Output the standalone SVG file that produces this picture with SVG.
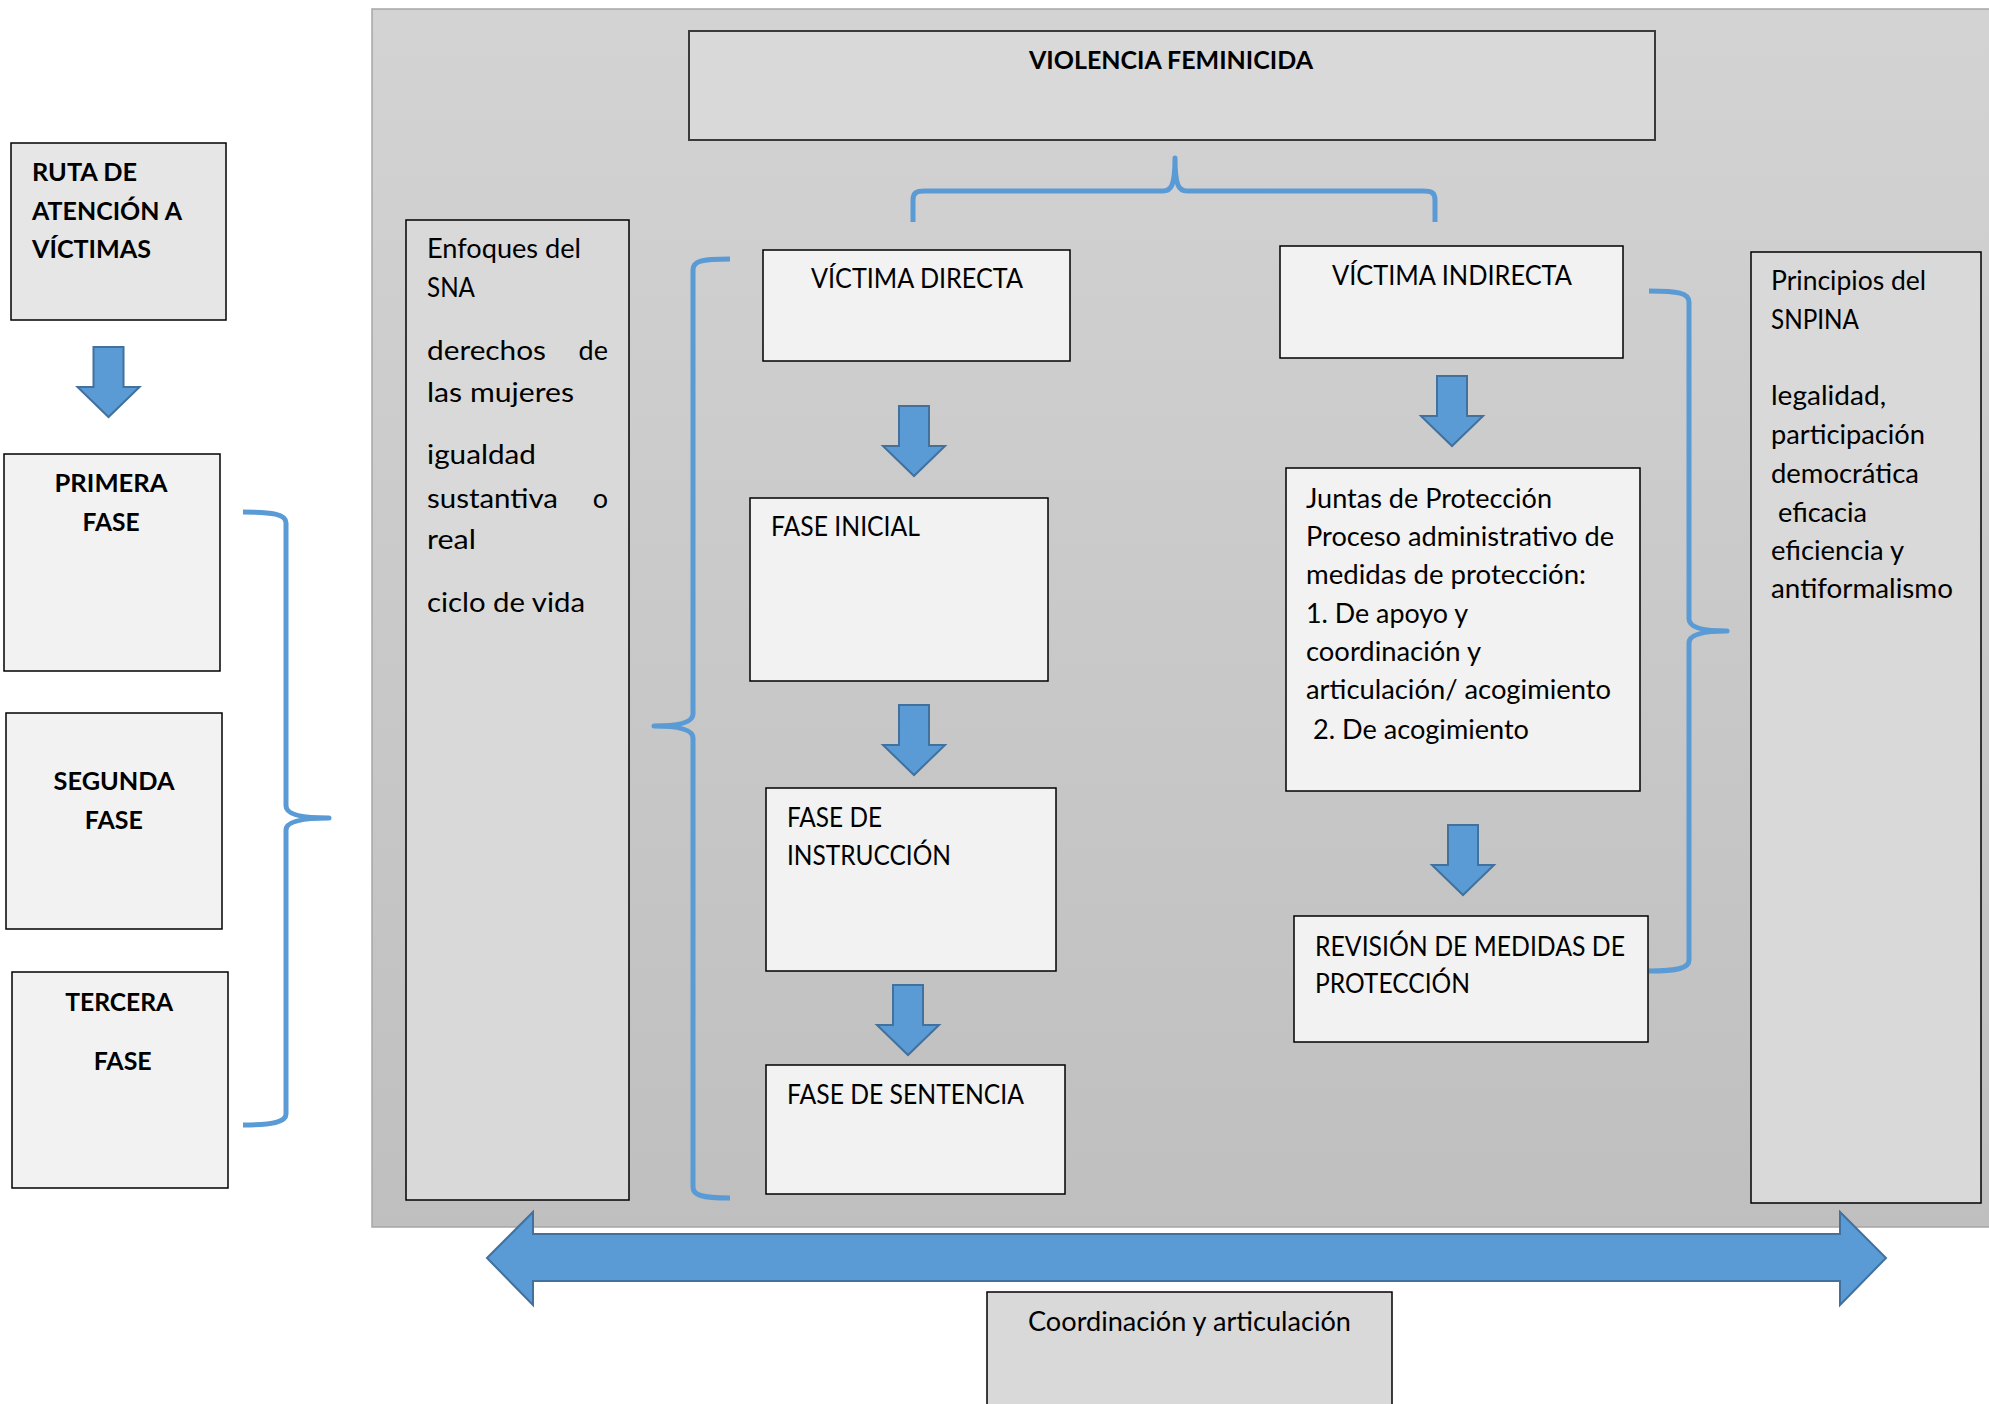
<svg xmlns="http://www.w3.org/2000/svg" xmlns:xlink="http://www.w3.org/1999/xlink" width="1989" height="1404" viewBox="0 0 1989 1404">
<defs>
<linearGradient id="pg" x1="0" y1="0" x2="0" y2="1">
<stop offset="0" stop-color="#d3d3d3"/>
<stop offset="1" stop-color="#bfbfbf"/>
</linearGradient>
<path id="dn" d="M-15,0 H15 V40 H31 L0,70 L-31,40 H-15 Z" fill="#5b9bd5" stroke="#41719c" stroke-width="2" stroke-linejoin="miter"/>
</defs>
<style>
.bx{stroke:#000;stroke-width:1.5}
.lt{fill:#f2f2f2}
.md{fill:#d9d9d9}
.t{font-family:Lato,"Liberation Sans",sans-serif;font-size:27px;fill:#000}
.b{font-weight:bold;font-size:25.4px}
.e{text-anchor:end}
.br{fill:none;stroke:#5b9bd5;stroke-width:5;stroke-linecap:butt;stroke-linejoin:round}
</style>
<rect width="1989" height="1404" fill="#fff"/>
<rect id="panel" x="372" y="9" width="1640" height="1218" fill="url(#pg)" stroke="#a6a6a6" stroke-width="1.5"/>

<g id="ruta">
<rect class="bx" x="11" y="143" width="215" height="177" fill="#e6e6e6"/>
<text class="t b" x="32" y="181" textLength="105" lengthAdjust="spacingAndGlyphs">RUTA DE</text>
<text class="t b" x="32" y="220" textLength="150" lengthAdjust="spacingAndGlyphs">ATENCIÓN A</text>
<text class="t b" x="32" y="258" textLength="119" lengthAdjust="spacingAndGlyphs">VÍCTIMAS</text>
</g>
<g id="primera">
<rect class="bx lt" x="4" y="454" width="216" height="217"/>
<text class="t b" x="54.5" y="492" textLength="113" lengthAdjust="spacingAndGlyphs">PRIMERA</text>
<text class="t b" x="82.6" y="531" textLength="57" lengthAdjust="spacingAndGlyphs">FASE</text>
</g>
<g id="segunda">
<rect class="bx lt" x="6" y="713" width="216" height="216"/>
<text class="t b" x="53.6" y="790" textLength="121" lengthAdjust="spacingAndGlyphs">SEGUNDA</text>
<text class="t b" x="84.8" y="829" textLength="58" lengthAdjust="spacingAndGlyphs">FASE</text>
</g>
<g id="tercera">
<rect class="bx lt" x="12" y="972" width="216" height="216"/>
<text class="t b" x="65.2" y="1011" textLength="108" lengthAdjust="spacingAndGlyphs">TERCERA</text>
<text class="t b" x="93.7" y="1070" textLength="58" lengthAdjust="spacingAndGlyphs">FASE</text>
</g>
<g id="enfoques">
<rect class="bx md" x="406" y="220" width="223" height="980"/>
<text class="t" x="427" y="258" textLength="154" lengthAdjust="spacingAndGlyphs">Enfoques del</text>
<text class="t" x="427" y="297" textLength="48" lengthAdjust="spacingAndGlyphs">SNA</text>
<text class="t" x="427" y="360" textLength="119" lengthAdjust="spacingAndGlyphs">derechos</text>
<text class="t e" x="608" y="360">de</text>
<text class="t" x="427" y="402" textLength="147" lengthAdjust="spacingAndGlyphs">las mujeres</text>
<text class="t" x="427" y="464" textLength="109" lengthAdjust="spacingAndGlyphs">igualdad</text>
<text class="t" x="427" y="508" textLength="131" lengthAdjust="spacingAndGlyphs">sustantiva</text>
<text class="t e" x="608" y="508">o</text>
<text class="t" x="427" y="549" textLength="49" lengthAdjust="spacingAndGlyphs">real</text>
<text class="t" x="427" y="612" textLength="158" lengthAdjust="spacingAndGlyphs">ciclo de vida</text>
</g>
<g id="violencia">
<rect x="689" y="31" width="966" height="109" fill="#d9d9d9" stroke="#3a3a3a" stroke-width="2"/>
<text class="t b" x="1029" y="69" textLength="284" lengthAdjust="spacingAndGlyphs">VIOLENCIA FEMINICIDA</text>
</g>
<g id="vdirecta">
<rect class="bx lt" x="763" y="250" width="307" height="111"/>
<text class="t" x="811" y="288" textLength="212" lengthAdjust="spacingAndGlyphs">VÍCTIMA DIRECTA</text>
</g>
<g id="faseinicial">
<rect class="bx lt" x="750" y="498" width="298" height="183"/>
<text class="t" x="771" y="536" textLength="149" lengthAdjust="spacingAndGlyphs">FASE INICIAL</text>
</g>
<g id="instruccion">
<rect class="bx lt" x="766" y="788" width="290" height="183"/>
<text class="t" x="787" y="827" textLength="95" lengthAdjust="spacingAndGlyphs">FASE DE</text>
<text class="t" x="787" y="865" textLength="164" lengthAdjust="spacingAndGlyphs">INSTRUCCIÓN</text>
</g>
<g id="sentencia">
<rect class="bx lt" x="766" y="1065" width="299" height="129"/>
<text class="t" x="787" y="1104" textLength="237" lengthAdjust="spacingAndGlyphs">FASE DE SENTENCIA</text>
</g>
<g id="vindirecta">
<rect class="bx lt" x="1280" y="246" width="343" height="112"/>
<text class="t" x="1332" y="285" textLength="240" lengthAdjust="spacingAndGlyphs">VÍCTIMA INDIRECTA</text>
</g>
<g id="juntas">
<rect class="bx lt" x="1286" y="468" width="354" height="323"/>
<text class="t" x="1306" y="508" textLength="246" lengthAdjust="spacingAndGlyphs">Juntas de Protección</text>
<text class="t" x="1306" y="546" textLength="308" lengthAdjust="spacingAndGlyphs">Proceso administrativo de</text>
<text class="t" x="1306" y="584" textLength="280" lengthAdjust="spacingAndGlyphs">medidas de protección:</text>
<text class="t" x="1306" y="623" textLength="162" lengthAdjust="spacingAndGlyphs">1. De apoyo y</text>
<text class="t" x="1306" y="661" textLength="175" lengthAdjust="spacingAndGlyphs">coordinación y</text>
<text class="t" x="1306" y="699" textLength="305" lengthAdjust="spacingAndGlyphs">articulación/ acogimiento</text>
<text class="t" x="1313" y="739" textLength="216" lengthAdjust="spacingAndGlyphs">2. De acogimiento</text>
</g>
<g id="revision">
<rect class="bx lt" x="1294" y="916" width="354" height="126"/>
<text class="t" x="1315" y="956" textLength="310" lengthAdjust="spacingAndGlyphs">REVISIÓN DE MEDIDAS DE</text>
<text class="t" x="1315" y="993" textLength="155" lengthAdjust="spacingAndGlyphs">PROTECCIÓN</text>
</g>
<g id="principios">
<rect class="bx md" x="1751" y="252" width="230" height="951"/>
<text class="t" x="1771" y="290" textLength="155" lengthAdjust="spacingAndGlyphs">Principios del</text>
<text class="t" x="1771" y="329" textLength="88" lengthAdjust="spacingAndGlyphs">SNPINA</text>
<text class="t" x="1771" y="405" textLength="115" lengthAdjust="spacingAndGlyphs">legalidad,</text>
<text class="t" x="1771" y="444" textLength="154" lengthAdjust="spacingAndGlyphs">participación</text>
<text class="t" x="1771" y="483" textLength="148" lengthAdjust="spacingAndGlyphs">democrática</text>
<text class="t" x="1778" y="522" textLength="89" lengthAdjust="spacingAndGlyphs">eficacia</text>
<text class="t" x="1771" y="560" textLength="133" lengthAdjust="spacingAndGlyphs">eficiencia y</text>
<text class="t" x="1771" y="598" textLength="182" lengthAdjust="spacingAndGlyphs">antiformalismo</text>
</g>
<g id="coordinacion">
<rect class="bx md" x="987" y="1292" width="405" height="130"/>
<text class="t" x="1028" y="1331" textLength="323" lengthAdjust="spacingAndGlyphs">Coordinación y articulación</text>
</g>

<g id="connectors">
<use xlink:href="#dn" transform="translate(108.5,347)"/>
<use xlink:href="#dn" transform="translate(914,406)"/>
<use xlink:href="#dn" transform="translate(914,705)"/>
<use xlink:href="#dn" transform="translate(908,985)"/>
<use xlink:href="#dn" transform="translate(1452,376)"/>
<use xlink:href="#dn" transform="translate(1463,825)"/>
<path class="br" d="M243,512 C272,512 286,514 286,523 L286,806 C286,814 300,818 329,818 C300,818 286,822 286,830 L286,1114 C286,1122 272,1125 243,1125"/>
<path class="br" d="M730,259 C701,259 693,261 693,270 L693,714 C693,722 680,726 654,726 C680,726 693,730 693,738 L693,1187 C693,1195 701,1198 730,1198"/>
<path class="br" d="M1649,291 C1678,291 1689,293 1689,302 L1689,619 C1689,627 1702,631 1727,631 C1702,631 1689,635 1689,643 L1689,960 C1689,968 1678,971 1649,971"/>
<path class="br" d="M913,222 L913,200 C913,193 916,191 925,191 L1163,191 C1171,191 1175,186 1175,158 C1175,186 1179,191 1187,191 L1423,191 C1432,191 1435,193 1435,200 L1435,222"/>
<polygon points="487,1258 533,1212 533,1234 1840,1234 1840,1212 1886,1258 1840,1305 1840,1281 533,1281 533,1305" fill="#5b9bd5" stroke="#41719c" stroke-width="2"/>
</g>
</svg>
